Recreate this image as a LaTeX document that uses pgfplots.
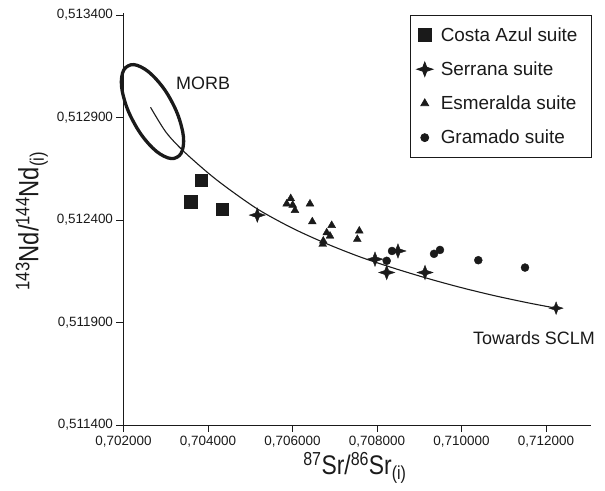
\documentclass[border=0pt]{standalone}
\usepackage{pgfplots}
\pgfplotsset{compat=1.18}
\usepackage{fontspec}
\setmainfont{Liberation Sans}
\usepackage{graphicx}
\pgfdeclareplotmark{fourstar}{%
 \pgfpathmoveto{\pgfqpoint{0pt}{0.9\pgfplotmarksize}}%
 \pgfpathlineto{\pgfqpoint{0.25\pgfplotmarksize}{0.25\pgfplotmarksize}}%
 \pgfpathlineto{\pgfqpoint{\pgfplotmarksize}{0pt}}%
 \pgfpathlineto{\pgfqpoint{0.25\pgfplotmarksize}{-0.25\pgfplotmarksize}}%
 \pgfpathlineto{\pgfqpoint{0pt}{-0.9\pgfplotmarksize}}%
 \pgfpathlineto{\pgfqpoint{-0.25\pgfplotmarksize}{-0.25\pgfplotmarksize}}%
 \pgfpathlineto{\pgfqpoint{-\pgfplotmarksize}{0pt}}%
 \pgfpathlineto{\pgfqpoint{-0.25\pgfplotmarksize}{0.25\pgfplotmarksize}}%
 \pgfpathclose
 \pgfusepathqfillstroke}
\definecolor{ink}{HTML}{1A1A1A}
\newcommand{\tl}[1]{{\fontsize{13.5}{16}\selectfont #1}}
\begin{document}
\begin{tikzpicture}
\useasboundingbox (0,0) rectangle (605bp,491bp);
\begin{axis}[
  at={(123.5bp,66bp)}, anchor=south west,
  scale only axis, width=467.5bp, height=412bp,
  xmin=0.702, xmax=0.713066, ymin=0.5114, ymax=0.51341,
  axis lines=left, axis line style={-, ink, line width=0.8pt},
  clip=false,
  tick align=outside, major tick length=7bp,
  tick style={ink, line width=0.8pt},
  xtick={0.702,0.704,0.706,0.708,0.710,0.712},
  xticklabels={{\tl{0,702000}},{\tl{0,704000}},{\tl{0,706000}},{\tl{0,708000}},{\tl{0,710000}},{\tl{0,712000}}},
  ytick={0.5114,0.5119,0.5124,0.5129,0.5134},
  yticklabels={{\tl{0,511400}},{\tl{0,511900}},{\tl{0,512400}},{\tl{0,512900}},{\tl{0,513400}}},
  every tick label/.append style={text=ink},
  xticklabel style={yshift=-1bp},
  xlabel={\scalebox{0.85}[1]{\fontsize{27}{29}\selectfont\textsuperscript{87}Sr/\textsuperscript{86}Sr\textsubscript{(i)}}},
  ylabel={\scalebox{0.85}[1]{\fontsize{28}{30}\selectfont\textsuperscript{143}Nd/\textsuperscript{144}Nd\textsubscript{(i)}}},
  xlabel style={at={(axis description cs:0.495,-0.103)}, anchor=center, text=ink},
  ylabel style={at={(axis description cs:-0.196,0.495)}, anchor=center, rotate=0, text=ink},
  legend style={at={(rel axis cs:1.002,0.995)}, anchor=north east,
    draw=ink, line width=0.8pt, font=\fontsize{19}{20}\selectfont,
    row sep=15bp, inner xsep=6bp, inner ysep=10bp, text=ink,
    nodes={inner xsep=8bp}},
  legend cell align=left,
]
% MORB field
\addplot[ink, line width=3.3pt, smooth cycle, tension=0.7, forget plot] coordinates {
 (0.703264,0.512706) (0.703415,0.512761) (0.703368,0.512860) (0.703139,0.512979)
 (0.702791,0.513083) (0.702412,0.513147) (0.702109,0.513152) (0.701957,0.513097)
 (0.702005,0.512998) (0.702234,0.512880) (0.702582,0.512775) (0.702961,0.512711)};
% mixing curve
\addplot[ink, line width=1.1pt, smooth, forget plot] coordinates {
 (0.70264,0.51295) (0.70300,0.51283) (0.70340,0.51274) (0.70400,0.51263)
 (0.70450,0.51255) (0.70520,0.51245) (0.70600,0.51236) (0.70680,0.512285)
 (0.70760,0.51222) (0.70840,0.512165) (0.70920,0.512115) (0.71000,0.51207)
 (0.71080,0.51203) (0.71160,0.511995) (0.71224,0.51197)};
\addplot[only marks, mark=fourstar, mark size=7bp, ink, forget plot] coordinates {(0.71224,0.51197)};
% Costa Azul
\addplot[only marks, mark=square*, mark size=6.2bp, ink, fill=ink] coordinates {
 (0.703591,0.512489) (0.703834,0.512594) (0.704339,0.512452)};
\addlegendentry{Costa Azul suite}
% Serrana
\addplot[only marks, mark=fourstar, mark size=8bp, ink, fill=ink] coordinates {
 (0.705167,0.512424) (0.707953,0.512209) (0.708230,0.512144) (0.708497,0.512249)
 (0.709137,0.512144)};
\addlegendentry{Serrana suite}
% Esmeralda
\addplot[only marks, mark=triangle*, mark size=4.5bp, ink, fill=ink] coordinates {
 (0.705958,0.512505) (0.705863,0.512479) (0.706005,0.512473) (0.706059,0.512447)
 (0.706414,0.512479) (0.706469,0.512392) (0.706928,0.512374) (0.706810,0.512338)
 (0.706888,0.512322) (0.706729,0.512298) (0.706715,0.512282) (0.707581,0.512347)
 (0.707534,0.512306)};
\addlegendentry{Esmeralda suite}
% Gramado
\addplot[only marks, mark=*, mark size=4bp, ink, fill=ink] coordinates {
 (0.708230,0.512201) (0.708356,0.512249) (0.709350,0.512235) (0.709491,0.512254)
 (0.710398,0.512204) (0.711504,0.512168)};
\addlegendentry{Gramado suite}
\node[anchor=west, font=\fontsize{18}{20}\selectfont, text=ink, inner sep=0pt] at (axis cs:0.703243,0.513067) {MORB};
\node[anchor=west, font=\fontsize{18}{20}\selectfont, text=ink, inner sep=0pt] at (axis cs:0.710273,0.511822) {Towards SCLM};
\end{axis}
\end{tikzpicture}
\end{document}
